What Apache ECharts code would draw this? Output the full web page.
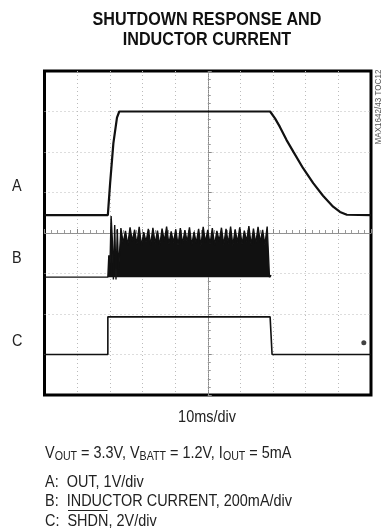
<!DOCTYPE html>
<html>
<head>
<meta charset="utf-8">
<script src="https://cdn.jsdelivr.net/npm/echarts@6/dist/echarts.min.js"></script>
<style>
html,body{margin:0;padding:0;background:#fff;}
#chart{width:386px;height:531px;}
</style>
</head>
<body>
<div id="chart"></div>
<script>
// ---- data (time in ms, 10 ms/div, centred; level in divisions from screen centre) ----
const titleLines = ['SHUTDOWN RESPONSE AND', 'INDUCTOR CURRENT'];
const traceLabels = ['A', 'B', 'C'];
const xAxisLabel = '10ms/div';
const partNumber = 'MAX1642/43 TOC12';

const timeA = [-50, -30.6, -29.9, -28.9, -27.8, -27.1, 19.1, 20.6, 22.1, 24.1, 26.2, 29.2, 32.3, 35.3, 38.4, 40.5, 42.6, 50];
const traceA = [0.44, 0.44, 1.23, 2.22, 2.85, 3.0, 3.0, 2.83, 2.62, 2.3, 2.01, 1.6, 1.23, 0.92, 0.65, 0.52, 0.45, 0.44];

const timeB = [-50, -30.6, -30.3, -30.0, -29.6, -29.2, -28.9, -28.5, -28.1, -27.7, -27.3,
  -26.6, -25.9, -25.2, -24.5, -23.8, -23.1, -22.4, -21.7, -21.0, -20.3, -19.6, -18.9, -18.2, -17.5, -16.8, -16.1,
  -15.4, -14.7, -14.0, -13.3, -12.6, -11.9, -11.2, -10.5, -9.8, -9.1, -8.4, -7.7, -7.0, -6.3, -5.6, -4.9,
  -4.2, -3.5, -2.8, -2.1, -1.4, -0.7, 0.0, 0.7, 1.4, 2.1, 2.8, 3.5, 4.2, 4.9, 5.6, 6.3, 7.0, 7.7,
  8.4, 9.1, 9.8, 10.5, 11.2, 11.9, 12.6, 13.3, 14.0, 14.7, 15.4, 16.1, 16.8, 17.5, 18.2, 18.9,
  19.4, 19.5, 50];
const traceB = [-1.09, -1.09, -0.55, -1.0, 0.42, -0.2, -1.15, 0.2, -1.15, 0.1, -0.9,
  0.12, -0.25, 0.05, -0.3, 0.14, -0.2, 0.08, -0.28, 0.15, -0.32, 0.02, -0.22, 0.1, -0.3, 0.13, -0.26,
  0.06, -0.31, 0.11, -0.2, 0.16, -0.28, 0.04, -0.24, 0.09, -0.3, 0.12, -0.27, 0.07, -0.22, 0.14, -0.3,
  0.03, -0.25, 0.1, -0.32, 0.15, -0.23, 0.08, -0.28, 0.12, -0.3, 0.05, -0.2, 0.13, -0.29, 0.1, -0.26,
  0.16, -0.31, 0.09, -0.24, 0.14, -0.28, 0.06, -0.21, 0.17, -0.3, 0.11, -0.27, 0.15, -0.23, 0.08, -0.29,
  0.16, -1.09, -1.04];

const timeC = [-50, -30.6, -30.6, 19.1, 19.7, 50];
const traceC = [-3.0, -3.0, -2.07, -2.07, -3.0, -3.0];

const markerPoint = [[47.8, -2.71]];

const zip = (xs, ys) => xs.map((x, i) => [x, ys[i]]);

const chart = echarts.init(document.getElementById('chart'), null, {renderer: 'canvas'});
const sans = "'Liberation Sans', Arial, sans-serif";
const SX = 0.85;

function txt(x, y, text, size, opts) {
  opts = opts || {};
  return {
    type: 'text', x: x, y: y, scaleX: opts.sx || SX, rotation: opts.rotation || 0,
    style: Object.assign({
      text: text, font: (opts.bold ? 'bold ' : '') + size + 'px ' + sans,
      fill: opts.fill || '#222', align: opts.align || 'left', verticalAlign: 'middle'
    }, opts.style || {})
  };
}

const splitStyle = {show: true, showMinLine: false, showMaxLine: false, lineStyle: {color: '#bbb', type: [1, 3], width: 1}};

const option = {
  animation: false,
  backgroundColor: '#fff',
  grid: {left: 44.5, top: 71, width: 326.5, height: 324, show: true, borderColor: '#000', borderWidth: 3, backgroundColor: 'transparent'},
  xAxis: {
    type: 'value', min: -50, max: 50, interval: 10,
    axisLine: {show: true, onZero: true, lineStyle: {color: '#888', width: 1, type: 'dotted'}},
    axisTick: {show: true, inside: true, length: 4, lineStyle: {color: '#888'}},
    minorTick: {show: true, splitNumber: 5, length: 3, lineStyle: {color: '#999'}},
    axisLabel: {show: false},
    splitLine: splitStyle
  },
  yAxis: {
    type: 'value', min: -4, max: 4, interval: 1,
    axisLine: {show: true, onZero: true, lineStyle: {color: '#888', width: 1, type: 'dotted'}},
    axisTick: {show: true, inside: true, length: 4, lineStyle: {color: '#888'}},
    minorTick: {show: true, splitNumber: 5, length: 3, lineStyle: {color: '#999'}},
    axisLabel: {show: false},
    splitLine: splitStyle
  },
  series: [
    {name: 'A', type: 'line', data: zip(timeA, traceA), showSymbol: false, lineStyle: {color: '#111', width: 2.2}, z: 3},
    {name: 'B', type: 'line', data: zip(timeB, traceB), showSymbol: false, lineStyle: {color: '#111', width: 1.4},
      areaStyle: {color: '#111', opacity: 1, origin: -1.09}, z: 3},
    {name: 'C', type: 'line', data: zip(timeC, traceC), showSymbol: false, lineStyle: {color: '#111', width: 1.6}, z: 3},
    {name: 'marker', type: 'scatter', data: markerPoint, symbolSize: 5, itemStyle: {color: '#111'}, z: 3}
  ],
  graphic: [
    txt(207, 20, titleLines[0], 19, {bold: true, align: 'center', fill: '#111'}),
    txt(207, 40, titleLines[1], 19, {bold: true, align: 'center', fill: '#111'}),
    txt(12, 186, traceLabels[0], 17),
    txt(12, 258, traceLabels[1], 17),
    txt(12, 341, traceLabels[2], 17),
    txt(378, 107, partNumber, 9.5, {rotation: Math.PI / 2, align: 'center', fill: '#555'}),
    txt(207, 417, xAxisLabel, 17, {align: 'center'}),
    txt(45, 453, '{n|V}{s|OUT}{n| = 3.3V, V}{s|BATT}{n| = 1.2V, I}{s|OUT}{n| = 5mA}', 17, {style: {
      rich: {
        n: {font: '17px ' + sans, fill: '#222', lineHeight: 20, verticalAlign: 'middle'},
        s: {font: '12.5px ' + sans, fill: '#222', lineHeight: 12, verticalAlign: 'bottom', padding: [6, 0, 0, 0]}
      }
    }}),
    txt(45, 482, 'A:  OUT, 1V/div', 17),
    txt(45, 501, 'B:  INDUCTOR CURRENT, 200mA/div', 17),
    txt(45, 521, 'C:  SHDN, 2V/div', 17),
    {type: 'line', shape: {x1: 68, y1: 510.5, x2: 107.5, y2: 510.5}, style: {stroke: '#222', lineWidth: 1}}
  ]
};
chart.setOption(option);
</script>
</body>
</html>
